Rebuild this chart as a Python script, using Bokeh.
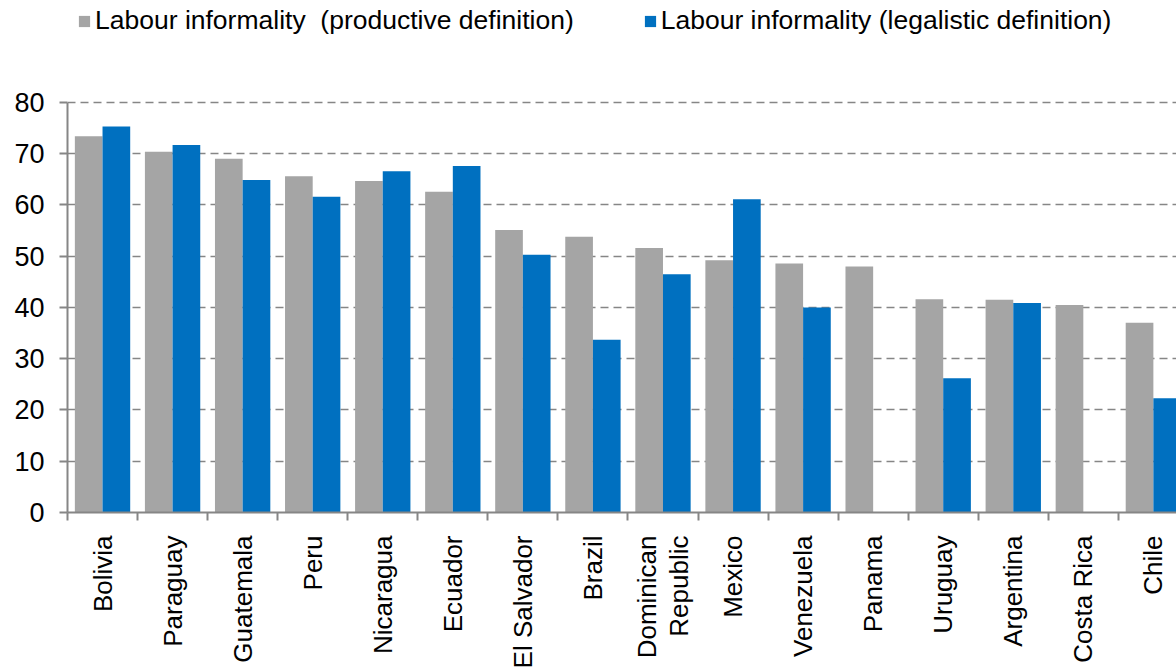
import math
from bokeh.plotting import figure
from bokeh.models import Range1d, FixedTicker, Legend, LegendItem, ColumnDataSource
from bokeh.embed import file_html
from bokeh.resources import INLINE

countries = ["Bolivia", "Paraguay", "Guatemala", "Peru", "Nicaragua", "Ecuador",
             "El Salvador", "Brazil", "Dominican\nRepublic", "Mexico", "Venezuela",
             "Panama", "Uruguay", "Argentina", "Costa Rica", "Chile"]
productive = [73.4, 70.4, 69.0, 65.6, 64.7, 62.6, 55.1, 53.8, 51.6, 49.2, 48.6,
              48.0, 41.6, 41.5, 40.5, 37.0]
legalistic = [75.3, 71.7, 64.9, 61.6, 66.6, 67.6, 50.3, 33.7, 46.5, 61.1, 40.0,
              None, 26.2, 40.9, None, 22.3]
y_ticks = [0, 10, 20, 30, 40, 50, 60, 70, 80]
series_names = ["Labour informality  (productive definition)",
                "Labour informality (legalistic definition)"]

GRAY = "#A5A5A5"
BLUE = "#0070C0"
AXIS = "#868686"
FONT = "Liberation Sans"
BAR_W = 0.395

centers = [i + 0.5 for i in range(len(countries))]
src_p = ColumnDataSource(dict(x=[c - BAR_W / 2 for c in centers], top=productive))
lx, lt = [], []
for c, v in zip(centers, legalistic):
    if v is not None:
        lx.append(c + BAR_W / 2)
        lt.append(v)
src_l = ColumnDataSource(dict(x=lx, top=lt))

# frame spans the full height above the x axis; y = 80 sits 102 px below the top
p = figure(width=1176, height=671, x_range=Range1d(0, 15.83), y_range=Range1d(0, 99.9),
           output_backend="svg", toolbar_location=None,
           min_border_left=67, min_border_top=0, min_border_right=0, min_border_bottom=159)
p.outline_line_color = None
p.background_fill_color = "white"

r1 = p.vbar(x="x", top="top", bottom=0, width=BAR_W, source=src_p,
            fill_color=GRAY, line_color=None)
r2 = p.vbar(x="x", top="top", bottom=0, width=BAR_W, source=src_l,
            fill_color=BLUE, line_color=None)

# grid
p.xgrid.visible = False
p.ygrid.grid_line_color = AXIS
p.ygrid.grid_line_dash = "8 5"
p.ygrid.grid_line_width = 1.7
p.ygrid.level = "underlay"

# y axis
ya = p.yaxis[0]
ya.ticker = FixedTicker(ticks=y_ticks, minor_ticks=[])
ya.bounds = (0, 80)
ya.axis_line_color = AXIS
ya.axis_line_width = 2
ya.major_tick_line_color = AXIS
ya.major_tick_line_width = 2
ya.major_tick_out = 8
ya.major_tick_in = 0
ya.minor_tick_line_color = None
ya.major_label_text_font = FONT
ya.major_label_text_font_size = "27px"
ya.major_label_text_color = "black"
ya.major_label_standoff = 15

# x axis: tick marks between categories, names centred on categories
xa = p.xaxis[0]
xa.ticker = FixedTicker(ticks=centers, minor_ticks=list(range(len(countries) + 1)))
xa.major_label_overrides = {c: n for c, n in zip(centers, countries)}
xa.axis_line_color = AXIS
xa.axis_line_width = 2
xa.major_tick_line_color = None
xa.major_tick_out = 0
xa.major_tick_in = 0
xa.minor_tick_line_color = AXIS
xa.minor_tick_line_width = 2
xa.minor_tick_out = 8
xa.minor_tick_in = 0
xa.major_label_orientation = math.pi / 2
xa.major_label_text_font = FONT
xa.major_label_text_font_size = "26px"
xa.major_label_text_color = "black"
xa.major_label_text_line_height = 1.05
xa.major_label_standoff = 15

legend = Legend(items=[LegendItem(label=series_names[0], renderers=[r1]),
                       LegendItem(label=series_names[1], renderers=[r2])],
                location=(10, 476), orientation="horizontal",
                glyph_width=14, glyph_height=14, label_standoff=4, spacing=69,
                padding=0, margin=0, border_line_color=None, background_fill_alpha=0,
                label_text_font=FONT, label_text_font_size="26.5px",
                label_text_color="black")
p.add_layout(legend)

open("out.html", "w").write(file_html(p, INLINE))
